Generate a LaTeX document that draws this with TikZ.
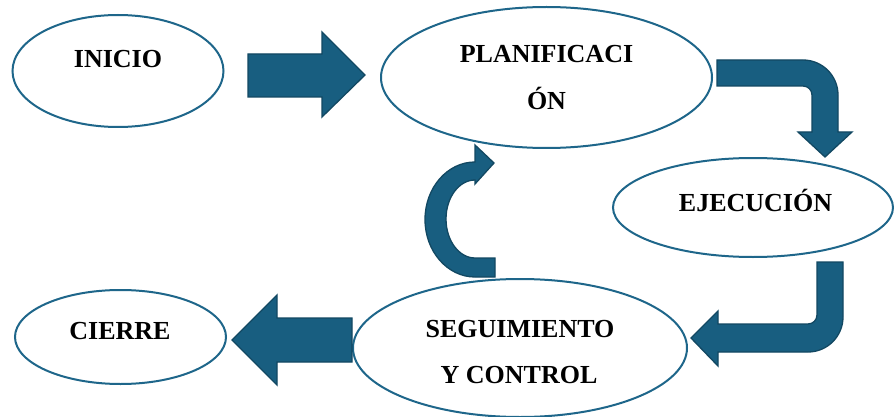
\documentclass[tikz,border=0pt]{standalone}
\usepackage{fontspec}
\setmainfont{Liberation Serif}
\usetikzlibrary{shapes.geometric}
\definecolor{arrowfill}{RGB}{24,94,128}
\definecolor{arrowline}{RGB}{18,72,98}
\definecolor{ellline}{RGB}{30,102,138}
\tikzset{
  ell/.style={ellipse, draw=ellline, line width=2pt, fill=white, inner sep=0pt},
  lbl/.style={inner sep=0pt, anchor=base, font=\fontsize{26}{31}\selectfont\bfseries},
  blockarrow/.style={fill=arrowfill, draw=arrowline, line width=1.3pt, line join=miter}
}
\begin{document}
\begin{tikzpicture}[x=1pt,y=-1pt]
\useasboundingbox (0,0) rectangle (894,417);
\fill[white] (0,0) rectangle (894,417);
% ellipses
\node[ell, minimum width=211pt, minimum height=112pt] (inicio) at (118,71) {};
\node[ell, minimum width=331pt, minimum height=141pt] (plan) at (546.5,77.5) {};
\node[ell, minimum width=280pt, minimum height=99pt] (ejec) at (753,207.5) {};
\node[ell, minimum width=211pt, minimum height=94pt] (cierre) at (120.5,337) {};
\node[ell, minimum width=334pt, minimum height=138pt] (seg) at (520,348) {};
% labels
\node[lbl] (tinicio) at (118,68) {INICIO};
\node[lbl] (tplan1) at (546.5,63) {PLANIFICACI};
\node[lbl] (tplan2) at (546.5,110) {ÓN};
\node[lbl] (tejec) at (755.5,211) {EJECUCIÓN};
\node[lbl] (tcierre) at (120,339) {CIERRE};
\node[lbl] (tseg1) at (520,337) {SEGUIMIENTO};
\node[lbl] (tseg2) at (519,383) {Y CONTROL};
% arrow INICIO -> PLANIFICACION
\draw[blockarrow] (248,54) -- (322,54) -- (322,32) -- (365,75) -- (322,117) -- (322,97) -- (248,97) -- cycle;
% bent arrow PLANIFICACION -> EJECUCION
\draw[blockarrow] (717,60) -- (803,60) arc[start angle=-90, end angle=0, radius=35]
  -- (838,132) -- (852,132) -- (825,157) -- (798,132) -- (812,132) -- (812,95)
  arc[start angle=0, end angle=-90, radius=9] -- (717,86) -- cycle;
% bent arrow EJECUCION -> SEGUIMIENTO
\draw[blockarrow] (843,262) -- (843,317) arc[start angle=0, end angle=90, radius=35]
  -- (718,352) -- (718,366) -- (691,338) -- (718,311) -- (718,324) -- (808,324)
  arc[start angle=90, end angle=0, radius=9] -- (817,262) -- cycle;
% arrow SEGUIMIENTO -> CIERRE
\draw[blockarrow] (352,318) -- (277,318) -- (277,295) -- (232,340) -- (277,385) -- (277,362) -- (352,362) -- cycle;
% circular arrow SEGUIMIENTO -> PLANIFICACION
\draw[blockarrow] (495,277) -- (475,277) arc[start angle=90, end angle=270, x radius=50, y radius=57.5]
  -- (475,145) -- (494,163) -- (475,184) -- (475,180)
  arc[start angle=270, end angle=90, x radius=29, y radius=39] -- (495,258) -- cycle;
\end{tikzpicture}
\end{document}
